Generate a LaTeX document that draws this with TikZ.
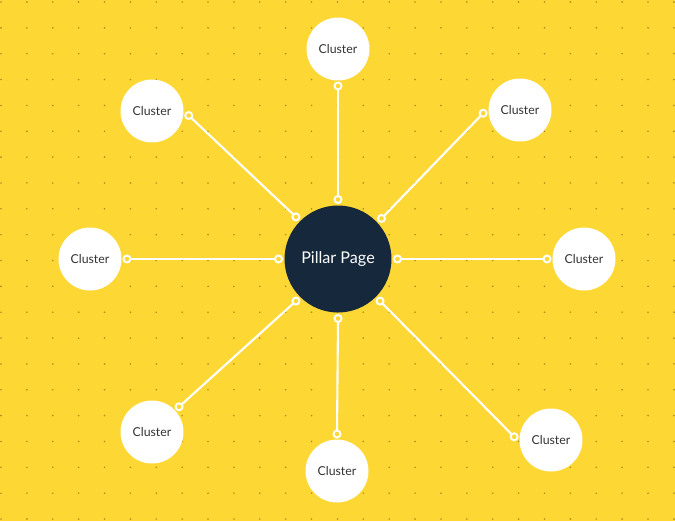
\documentclass[tikz,border=0pt]{standalone}
\usepackage{fontspec}
\setmainfont{Lato}
\definecolor{hubyellow}{RGB}{253,216,53}
\definecolor{hubdot}{RGB}{176,140,30}
\definecolor{hubnavy}{RGB}{21,40,60}

\begin{document}
\begin{tikzpicture}[x=0.02cm, y=-0.02cm,
    pillarnode/.style={circle, fill=hubnavy, text=white, inner sep=0pt,
      outer sep=0.12cm, minimum size=2.14cm, font=\fontsize{9.2}{11}\selectfont},
    cluster/.style={circle, fill=white, text=black!80, inner sep=0pt,
      outer sep=0.11cm, minimum size=1.26cm, font=\fontsize{7}{8}\selectfont},
    ring/.style={circle, draw=white, fill=hubyellow, line width=1.1pt,
      inner sep=0pt, minimum size=0.14cm},
    link/.style={draw=white, line width=1.2pt}]
  \path[use as bounding box, fill=hubyellow] (0,0) rectangle (675,521);
  % dotted grid
  \foreach \i in {0,...,26}
    \foreach \j in {0,...,20}
      \fill[hubdot] (1+25.88*\i, 2+25.85*\j) circle (0.9);
%
  \node [pillarnode] at (338,259) (pillar) {Pillar Page};
   \node [cluster] at (338,49) (c top) {Cluster};
    \node [cluster] at (152,111) (c top left) {Cluster};
     \node [cluster] at (520,110) (c top right) {Cluster};
      \node [cluster] at (90,259) (c left) {Cluster};
       \node [cluster] at (584,259) (c right) {Cluster};
        \node [cluster] at (152,432) (c bottom left) {Cluster};
         \node [cluster] at (337,471) (c bottom) {Cluster};
          \node [cluster] at (551,440) (c bottom right) {Cluster};
%
%
\draw[link] (pillar.90) -- node[ring,pos=0] {} node[ring,pos=1] {} (c top.-90);
\draw[link] (pillar.135) -- node[ring,pos=0] {} node[ring,pos=1] {} (c top left.-7);
\draw[link] (pillar.43) -- node[ring,pos=0] {} node[ring,pos=1] {} (c top right.185);
\draw[link] (pillar.180) -- node[ring,pos=0] {} node[ring,pos=1] {} (c left.0);
\draw[link] (pillar.0) -- node[ring,pos=0] {} node[ring,pos=1] {} (c right.180);
\draw[link] (pillar.225) -- node[ring,pos=0] {} node[ring,pos=1] {} (c bottom left.43);
\draw[link] (pillar.270) -- node[ring,pos=0] {} node[ring,pos=1] {} (c bottom.90);
\draw[link] (pillar.-45) -- node[ring,pos=0] {} node[ring,pos=1] {} (c bottom right.175);

\end{tikzpicture}
\end{document}
